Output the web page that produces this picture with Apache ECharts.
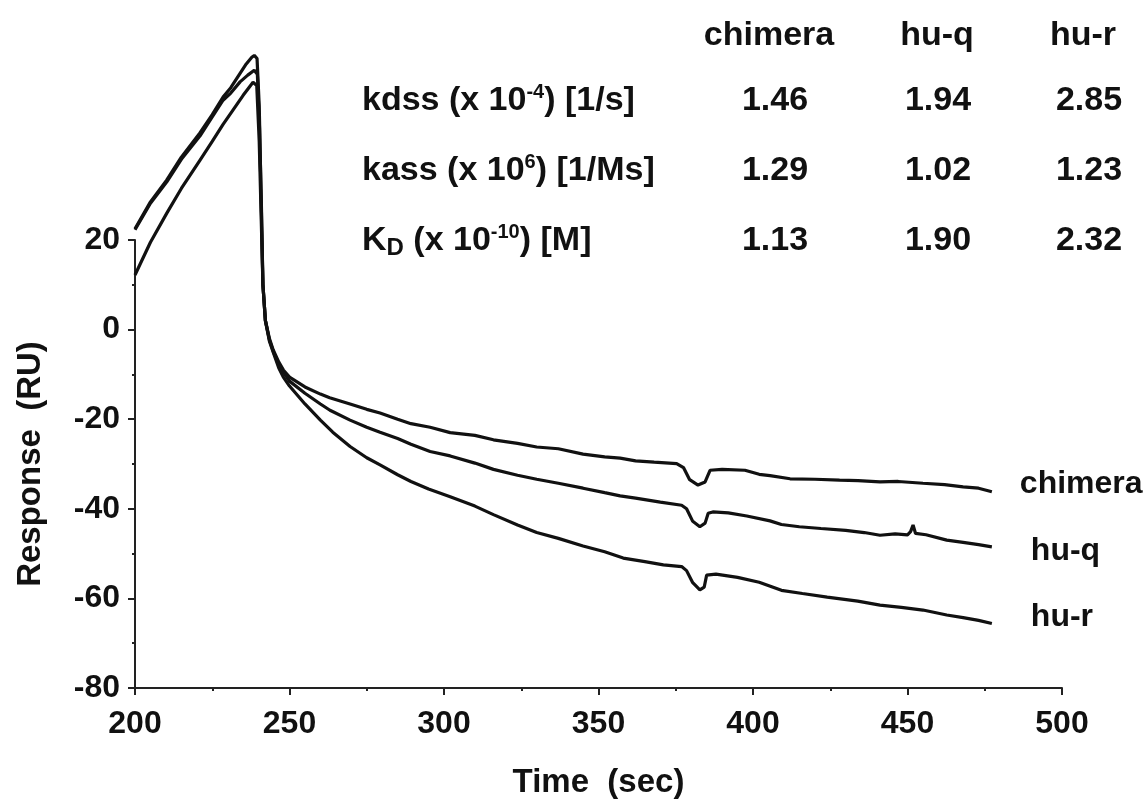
<!DOCTYPE html>
<html>
<head>
<meta charset="utf-8">
<script src="https://cdn.jsdelivr.net/npm/echarts@6/dist/echarts.min.js"></script>
<style>
  html, body { margin: 0; padding: 0; background: #fff; }
  #box { width: 1146px; height: 805px; }
</style>
</head>
<body>
<div id="box"></div>
<script>
var FONT = "Liberation Sans";

// sensorgram traces: [time (sec), response (RU)]
var chimeraData = [
  [200, 22.5], [205, 28.5], [210.3, 33.4], [215, 38.5], [221, 43.9], [225, 48.0],
  [228.5, 51.9], [231, 54.0], [234, 57.2], [236, 59.3], [237.8, 60.8], [238.6, 61.2],
  [239.5, 60.5], [240.2, 50], [240.8, 30], [241.4, 10], [242.2, 2], [243.5, -2],
  [244.7, -4.5], [246.5, -7.2], [248, -9], [250, -10.6], [255, -12.8], [260, -14.4],
  [263, -15.2], [269.6, -16.6], [275, -17.8], [279.3, -18.6], [285, -20.0], [289.3, -21.0],
  [295.5, -21.8], [302, -23.0], [310, -23.6], [316, -24.6], [323.8, -25.4], [330, -26.2],
  [337, -26.6], [345, -27.8], [352, -28.4], [357, -28.7], [362, -29.3], [368, -29.6],
  [375.3, -29.9], [377.5, -30.8], [379.5, -33.5], [382.2, -34.7], [384.5, -34.0], [386.1, -31.4],
  [390, -31.2], [397.4, -31.4], [402, -32.3], [405.5, -32.6], [412, -33.3], [420, -33.4],
  [428, -33.6], [434, -33.7], [441.1, -34.0], [447, -33.9], [455, -34.3], [462, -34.6],
  [468, -35.1], [473, -35.4], [477.3, -36.2]
];
var huqData = [
  [200, 22.3], [205, 28.2], [210.3, 33.0], [215, 38.0], [221, 43.2], [225, 47.5],
  [228.5, 51.2], [231, 52.8], [234, 55.3], [236.5, 56.8], [238.6, 57.9], [239.6, 57.0],
  [240.3, 45], [240.9, 28], [241.4, 10], [242.2, 2], [243.5, -2.3], [244.7, -4.8],
  [246.5, -7.8], [248, -9.5], [250, -11.5], [255, -14.2], [260, -16.6], [263.1, -18.0],
  [269.6, -20.2], [275, -21.8], [279.3, -22.9], [285, -24.3], [289.3, -25.6], [295.5, -27.2],
  [302, -28.2], [310, -29.8], [316, -31.2], [323.8, -32.5], [330, -33.4], [337, -34.3],
  [345, -35.4], [352, -36.4], [357, -37.1], [362, -37.6], [370, -38.5], [376.9, -39.2],
  [378.5, -40], [380.5, -42.8], [382.8, -44.0], [384.5, -43.2], [385.5, -41], [387, -40.7],
  [392, -40.9], [398, -41.6], [405.5, -42.7], [409.2, -43.5], [415, -44], [422, -44.4],
  [430, -44.8], [436, -45.3], [441.1, -45.9], [446, -45.6], [450, -45.8], [451, -45.1],
  [451.8, -43.6], [452.6, -45.5], [456, -45.8], [462.7, -47.0], [468, -47.5], [473, -48.0],
  [477.3, -48.5]
];
var hurData = [
  [200, 12.2], [205, 19.5], [210.3, 26.0], [215, 31.5], [221, 37.8], [225, 42.0],
  [228.5, 45.8], [231.7, 49.0], [235, 52.3], [238.2, 55.2], [239.4, 54.5], [240.2, 42],
  [240.8, 26], [241.4, 10], [242.2, 2], [243.5, -2.6], [244.7, -5], [246.5, -8.5],
  [248, -10.6], [250, -12.6], [255, -16.6], [260, -20.2], [264, -22.9], [269.6, -26.1],
  [275, -28.6], [279.3, -30.2], [285, -32.4], [289.3, -33.9], [295, -35.6], [302, -37.3],
  [310, -39.4], [316, -41.3], [323.8, -43.6], [330, -45.3], [337, -46.6], [345, -48.3],
  [352, -49.6], [358, -51.0], [365, -51.8], [371, -52.5], [376.9, -52.9], [378.5, -53.8],
  [380.5, -56.5], [382.8, -58.1], [384.2, -57.5], [385.0, -54.8], [388, -54.6], [395, -55.3],
  [402, -56.4], [409.2, -58.2], [416, -58.9], [424, -59.7], [433.9, -60.6], [441.1, -61.5],
  [448, -62.0], [455, -62.6], [462.7, -63.7], [468, -64.3], [473, -64.9], [477.3, -65.6]
];

// kinetic constants table
var tableCols = ["chimera", "hu-q", "hu-r"];
var kdssVals = [1.46, 1.94, 2.85];
var kassVals = [1.29, 1.02, 1.23];
var kdVals = [1.13, 1.90, 2.32];
var rowLabels = [
  "{b|kdss (x 10}{sup|-4}{b|) [1/s]}",
  "{b|kass (x 10}{sup|6}{b|) [1/Ms]}",
  "{b|K}{sub|D}{b| (x 10}{sup|-10}{b|) [M]}"
];

var chart = echarts.init(document.getElementById("box"));

var headX = [769, 937, 1083];
var colX = [775, 938, 1089];
var rowY = [101, 171, 241];
var TF = 34;
var richStyle = {
  b: { fontFamily: FONT, fontWeight: "bold", fontSize: TF, fill: "#111", lineHeight: 38 },
  sup: { fontFamily: FONT, fontWeight: "bold", fontSize: 20, fill: "#111", verticalAlign: "top", lineHeight: 38 },
  sub: { fontFamily: FONT, fontWeight: "bold", fontSize: 24, fill: "#111", verticalAlign: "bottom", lineHeight: 32 }
};

var graphics = [];
tableCols.forEach(function (c, i) {
  graphics.push({
    type: "text", x: headX[i], y: 36,
    style: { text: c, font: "bold " + TF + "px " + FONT, fill: "#111", align: "center", verticalAlign: "middle" }
  });
});
var rows = [kdssVals, kassVals, kdVals];
rows.forEach(function (vals, r) {
  graphics.push({
    type: "text", x: 362, y: rowY[r],
    style: { text: rowLabels[r], rich: richStyle, verticalAlign: "middle", align: "left" }
  });
  vals.forEach(function (v, i) {
    graphics.push({
      type: "text", x: colX[i], y: rowY[r],
      style: { text: v.toFixed(2), font: "bold " + TF + "px " + FONT, fill: "#111", align: "center", verticalAlign: "middle" }
    });
  });
});

function traceSeries(name, data, off) {
  return {
    name: name,
    type: "line",
    data: data,
    showSymbol: false,
    clip: false,
    smooth: false,
    lineStyle: { color: "#111", width: 3.2 },
    endLabel: {
      show: true,
      formatter: "{a}",
      offset: off,
      fontFamily: FONT,
      fontWeight: "bold",
      fontSize: 32,
      color: "#111"
    }
  };
}

var axisFont = { fontFamily: FONT, fontWeight: "bold", fontSize: 32, color: "#111" };

var option = {
  backgroundColor: "#fff",
  animation: false,
  grid: { left: 135, right: 84, top: 240, bottom: 117 },
  xAxis: {
    type: "value",
    min: 200, max: 500, interval: 50,
    name: "Time  (sec)",
    nameLocation: "middle",
    nameGap: 78,
    nameTextStyle: { fontFamily: FONT, fontWeight: "bold", fontSize: 33, color: "#111" },
    axisLine: { show: true, onZero: false, lineStyle: { color: "#222", width: 2 } },
    axisTick: { show: true, length: 7, lineStyle: { color: "#222", width: 2 } },
    minorTick: { show: true, splitNumber: 2, length: 3, lineStyle: { color: "#222", width: 2 } },
    splitLine: { show: false },
    axisLabel: Object.assign({ margin: 20 }, axisFont)
  },
  yAxis: {
    type: "value",
    min: -80, max: 20, interval: 20,
    name: "Response  (RU)",
    nameLocation: "middle",
    nameGap: 88,
    nameTextStyle: { fontFamily: FONT, fontWeight: "bold", fontSize: 33, color: "#111" },
    axisLine: { show: true, onZero: false, lineStyle: { color: "#222", width: 2 } },
    axisTick: { show: true, length: 7, lineStyle: { color: "#222", width: 2 } },
    minorTick: { show: true, splitNumber: 2, length: 3, lineStyle: { color: "#222", width: 2 } },
    splitLine: { show: false },
    axisLabel: Object.assign({ margin: 15 }, axisFont)
  },
  graphic: graphics,
  series: [
    traceSeries("chimera", chimeraData, [20, -8]),
    traceSeries("hu-q", huqData, [31, 4]),
    traceSeries("hu-r", hurData, [31, -6])
  ]
};
chart.setOption(option);
</script>
</body>
</html>
